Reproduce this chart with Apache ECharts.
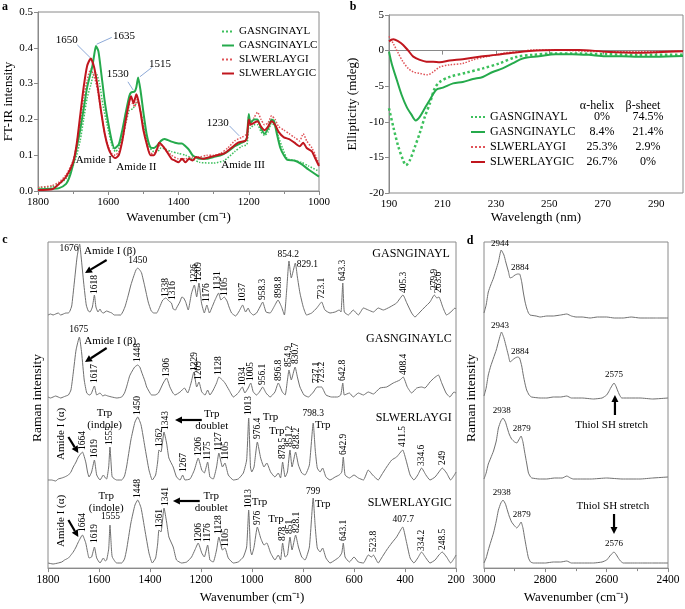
<!DOCTYPE html>
<html><head><meta charset="utf-8">
<script src="https://cdn.jsdelivr.net/npm/echarts@6/dist/echarts.min.js"></script>
<style>html,body{margin:0;padding:0;background:#fff}#c{width:685px;height:609px}</style>
</head><body><div id="c"></div>
<script>
// ---------------- DATA ----------------
const peptideNames = ['GASNGINAYL','GASNGINAYLC','SLWERLAYGI','SLWERLAYGIC'];
const alphaHelix = ['0%','8.4%','25.3%','26.7%'];
const betaSheet = ['74.5%','21.4%','2.9%','0%'];

// Panel a: FT-IR (wavenumber, intensity)
const ftirGASNGINAYL = [[1800,0.01],[1760,0.012],[1740,0.02],[1720,0.035],[1700,0.07],[1690,0.1],[1680,0.14],[1670,0.2],[1660,0.26],[1650,0.295],[1640,0.33],[1635,0.33],[1625,0.3],[1615,0.24],[1600,0.17],[1590,0.13],[1580,0.11],[1570,0.12],[1560,0.15],[1550,0.19],[1540,0.225],[1530,0.23],[1520,0.245],[1515,0.25],[1505,0.21],[1495,0.16],[1485,0.125],[1470,0.11],[1460,0.11],[1450,0.12],[1440,0.118],[1420,0.11],[1400,0.105],[1380,0.1],[1360,0.09],[1340,0.08],[1300,0.078],[1270,0.085],[1240,0.11],[1220,0.125],[1205,0.13],[1200,0.2],[1195,0.175],[1185,0.185],[1175,0.185],[1165,0.165],[1155,0.155],[1145,0.165],[1135,0.19],[1125,0.18],[1115,0.15],[1100,0.11],[1090,0.09],[1070,0.085],[1050,0.08],[1030,0.07],[1000,0.055]];
const ftirGASNGINAYLC = [[1800,0.005],[1760,0.006],[1740,0.008],[1720,0.02],[1710,0.04],[1700,0.075],[1690,0.12],[1680,0.17],[1670,0.23],[1660,0.29],[1650,0.33],[1645,0.35],[1640,0.38],[1635,0.405],[1628,0.39],[1620,0.33],[1610,0.25],[1600,0.19],[1590,0.14],[1582,0.119],[1570,0.13],[1560,0.17],[1550,0.22],[1540,0.265],[1535,0.275],[1525,0.278],[1520,0.29],[1515,0.317],[1508,0.28],[1500,0.22],[1490,0.155],[1480,0.122],[1470,0.12],[1460,0.128],[1450,0.14],[1440,0.145],[1430,0.142],[1420,0.138],[1410,0.135],[1400,0.133],[1390,0.133],[1380,0.125],[1370,0.115],[1360,0.1],[1340,0.09],[1320,0.09],[1300,0.095],[1280,0.1],[1260,0.11],[1240,0.125],[1220,0.135],[1210,0.14],[1205,0.15],[1200,0.215],[1195,0.19],[1185,0.2],[1175,0.2],[1165,0.175],[1155,0.16],[1145,0.175],[1135,0.2],[1128,0.195],[1120,0.16],[1110,0.12],[1100,0.1],[1090,0.087],[1070,0.085],[1050,0.075],[1030,0.06],[1000,0.04]];
const ftirSLWERLAYGI = [[1800,0.01],[1760,0.015],[1740,0.025],[1720,0.045],[1700,0.085],[1690,0.13],[1680,0.19],[1670,0.26],[1660,0.31],[1650,0.34],[1640,0.32],[1630,0.28],[1620,0.22],[1610,0.16],[1600,0.125],[1590,0.105],[1580,0.1],[1570,0.11],[1560,0.14],[1550,0.19],[1540,0.24],[1530,0.245],[1525,0.235],[1518,0.255],[1510,0.23],[1500,0.18],[1490,0.13],[1480,0.105],[1470,0.105],[1460,0.12],[1450,0.13],[1440,0.12],[1420,0.1],[1400,0.09],[1380,0.09],[1360,0.095],[1340,0.095],[1320,0.1],[1300,0.1],[1280,0.105],[1260,0.12],[1240,0.14],[1220,0.15],[1205,0.16],[1200,0.21],[1195,0.19],[1185,0.205],[1175,0.22],[1165,0.2],[1155,0.185],[1145,0.19],[1135,0.21],[1125,0.2],[1115,0.18],[1100,0.17],[1085,0.16],[1070,0.15],[1055,0.14],[1045,0.16],[1035,0.14],[1020,0.12],[1010,0.1],[1000,0.075]];
const ftirSLWERLAYGIC = [[1800,0.003],[1760,0.005],[1740,0.02],[1720,0.04],[1700,0.08],[1690,0.13],[1680,0.21],[1670,0.29],[1660,0.35],[1650,0.37],[1640,0.345],[1630,0.29],[1620,0.22],[1610,0.16],[1600,0.12],[1590,0.1],[1580,0.092],[1570,0.1],[1560,0.14],[1550,0.2],[1540,0.25],[1535,0.265],[1528,0.245],[1520,0.27],[1515,0.255],[1508,0.22],[1500,0.17],[1490,0.13],[1480,0.1],[1470,0.1],[1460,0.12],[1455,0.135],[1440,0.12],[1420,0.09],[1410,0.085],[1400,0.08],[1390,0.09],[1380,0.08],[1370,0.09],[1360,0.085],[1350,0.095],[1330,0.09],[1310,0.095],[1290,0.1],[1270,0.105],[1250,0.12],[1230,0.135],[1210,0.14],[1205,0.15],[1200,0.2],[1195,0.185],[1185,0.19],[1175,0.195],[1165,0.18],[1155,0.17],[1145,0.18],[1135,0.195],[1125,0.185],[1115,0.165],[1100,0.15],[1085,0.145],[1070,0.135],[1055,0.125],[1045,0.135],[1035,0.12],[1020,0.11],[1010,0.09],[1000,0.07]];
const ftirPeakLabels = [['1650',1718,0.422],['1635',1555,0.433],['1530',1573,0.327],['1515',1453,0.355],['1230',1288,0.191]];
const ftirLeaders = [[1688,0.408,1652,0.373],[1590,0.429,1633,0.41],[1544,0.305,1529,0.282],[1476,0.345,1510,0.319],[1255,0.182,1227,0.154]];
const ftirBandLabels = [['Amide I',1641,0.086],['Amide II',1520,0.068],['Amide III',1216,0.073]];

// Panel b: CD (wavelength, ellipticity)
const cdGASNGINAYL = [[190,-8.1],[191.6,-10.7],[193.5,-13.5],[195.3,-15.4],[196.3,-16.1],[197.8,-15.4],[199.7,-13.5],[201.5,-11.6],[203.4,-9.3],[205.3,-7.4],[207.1,-5.3],[209,-4.4],[212.7,-3.7],[218.9,-3.1],[225.1,-2.5],[231.3,-1.8],[237.5,-0.9],[243.7,-0.6],[252.3,-0.4],[258.5,-0.4],[271,-0.5],[283.3,-0.6],[300,-0.6]];
const cdGASNGINAYLC = [[190,-0.15],[191,-1.8],[192.9,-4.1],[194.7,-6.2],[196.6,-7.9],[198.4,-9.0],[200,-9.8],[201.5,-9.3],[203.4,-8.1],[205.3,-6.9],[207.7,-5.5],[210.2,-5.2],[214,-4.6],[217.6,-4.4],[221.4,-4.0],[225.1,-3.7],[228.8,-3.0],[232.5,-2.5],[236.2,-1.8],[240,-1.1],[246.1,-0.8],[252.3,-0.5],[258.5,-0.5],[264.7,-0.6],[271,-0.8],[277.1,-0.8],[283.3,-0.85],[289.5,-0.85],[300,-0.75]];
const cdSLWERLAYGI = [[190,2.0],[191.6,1.0],[193.5,-0.4],[195.3,-1.6],[197.2,-2.5],[199.1,-3.0],[201.5,-3.2],[204.3,-3.4],[206.5,-3.0],[209,-2.3],[212.7,-2.0],[217.6,-1.8],[221.4,-1.3],[226.3,-0.85],[231.3,-0.5],[233.8,-0.3],[238.7,-0.15],[243.7,0.1],[252.3,0.1],[258.5,0],[271,-0.15],[283.3,-0.15],[300,0]];
const cdSLWERLAYGIC = [[190,1.3],[191.6,1.6],[193.5,1.3],[195.3,0.8],[197.2,0],[199.1,-0.85],[201.5,-1.3],[204,-1.55],[206.5,-1.55],[209,-1.65],[212.7,-1.4],[217.6,-1.2],[223.8,-0.85],[230,-0.6],[236.2,-0.3],[242.4,-0.05],[252.3,0.1],[261,0.1],[271,-0.15],[283.3,-0.3],[300,-0.1]];

// Panel c: Raman 1800-200 (wavenumber, relative intensity a.u.)
const ramanGASNGINAYL = [[1800,0],[1790,1],[1780,0],[1770,1],[1760,2],[1750,0],[1740,1],[1730,2],[1720,2],[1714,4],[1707,9],[1697,32],[1686,58],[1676,71],[1670,58],[1660,32],[1650,10],[1642,4],[1635,3],[1626,8],[1618,20],[1612,8],[1604,3],[1596,6],[1590,3],[1583,2],[1570,4],[1560,3],[1550,2],[1540,0],[1530,0],[1515,0],[1505,4],[1497,9],[1485,20],[1475,30],[1465,38],[1455,45],[1448,47],[1440,45],[1433,42],[1420,28],[1407,13],[1395,4],[1385,2],[1374,2],[1362,8],[1350,15],[1338,17],[1326,14],[1316,12],[1309,6],[1300,5],[1296,7],[1283,13],[1275,18],[1268,17],[1260,13],[1250,5],[1242,15],[1237,22],[1226,30],[1217,18],[1208,32],[1198,12],[1187,2],[1177,10],[1167,2],[1158,7],[1145,15],[1131,22],[1122,15],[1109,18],[1098,14],[1090,8],[1080,2],[1064,-1],[1050,4],[1037,10],[1025,3],[1015,7],[1008,3],[995,0],[982,2],[969,8],[958,13],[945,3],[929,2],[914,8],[898,15],[884,8],[873,0],[864,25],[855,54],[846,37],[830,52],[822,38],[812,22],[799,8],[786,0],[766,2],[746,7],[727,13],[714,5],[694,2],[674,3],[658,5],[651,3],[644,32],[638,3],[622,0],[603,5],[583,0],[563,7],[544,5],[524,3],[505,7],[485,5],[459,8],[433,12],[408,20],[393,12],[374,2],[361,-2],[341,3],[322,8],[302,13],[285,20],[275,17],[267,18],[252,8],[237,0],[220,3],[204,7],[200,6]];
const ramanGASNGINAYLC = [[1800,1],[1790,0],[1780,1],[1770,2],[1760,1],[1750,0],[1740,1],[1730,2],[1720,3],[1710,8],[1701,25],[1690,48],[1677,61],[1668,45],[1658,18],[1648,5],[1638,3],[1631,4],[1618,12],[1609,3],[1596,5],[1585,2],[1577,3],[1565,2],[1550,1],[1530,0],[1511,1],[1500,5],[1492,11],[1480,22],[1472,26],[1460,31],[1448,33],[1440,31],[1433,26],[1420,17],[1413,11],[1400,5],[1394,3],[1380,3],[1367,5],[1348,15],[1335,20],[1322,11],[1310,5],[1302,3],[1282,6],[1265,10],[1252,5],[1239,15],[1228,26],[1217,11],[1208,16],[1197,6],[1184,3],[1174,8],[1165,3],[1152,8],[1139,15],[1130,21],[1116,18],[1106,15],[1090,8],[1073,1],[1054,5],[1038,11],[1028,5],[1015,10],[1005,15],[995,6],[982,3],[971,6],[958,11],[945,5],[929,1],[910,6],[897,15],[881,6],[870,3],[861,18],[855,28],[846,18],[831,31],[822,21],[812,11],[796,3],[779,1],[759,6],[745,11],[737,11],[727,11],[710,3],[688,1],[665,1],[652,3],[644,15],[638,3],[618,5],[603,1],[583,5],[563,3],[544,6],[524,4],[498,10],[472,11],[446,15],[420,18],[407,21],[391,11],[374,5],[354,10],[335,11],[322,10],[302,16],[286,20],[269,23],[256,15],[239,5],[224,1],[208,6],[200,5]];
const ramanSLWERLAYGI = [[1800,2],[1786,2],[1770,1],[1760,3],[1746,4],[1735,5],[1720,7],[1710,10],[1701,15],[1690,20],[1681,25],[1665,30],[1652,20],[1645,10],[1639,5],[1629,10],[1618,22],[1609,7],[1596,2],[1583,7],[1575,4],[1570,3],[1562,15],[1557,35],[1551,12],[1548,5],[1531,2],[1511,2],[1500,6],[1492,15],[1475,42],[1459,60],[1448,65],[1435,57],[1420,35],[1404,12],[1391,2],[1378,7],[1370,20],[1365,32],[1357,30],[1345,50],[1335,39],[1326,24],[1309,15],[1296,5],[1282,2],[1272,7],[1263,2],[1243,3],[1226,12],[1211,24],[1197,12],[1187,9],[1174,20],[1165,5],[1152,3],[1139,15],[1130,29],[1116,15],[1106,19],[1093,7],[1073,2],[1054,3],[1034,9],[1021,22],[1013,64],[1006,15],[1001,10],[992,15],[979,40],[966,24],[953,15],[942,19],[927,10],[910,5],[897,9],[888,4],[880,20],[870,5],[861,10],[851,32],[843,15],[829,30],[818,17],[805,9],[792,7],[775,17],[760,59],[752,32],[744,14],[733,10],[723,14],[710,5],[694,2],[674,5],[658,7],[648,10],[642,25],[635,7],[618,4],[600,7],[583,4],[563,2],[544,12],[527,7],[505,2],[492,7],[472,15],[452,22],[433,25],[409,32],[396,22],[380,7],[365,2],[350,7],[335,14],[318,7],[302,2],[282,5],[267,10],[254,14],[237,9],[221,2],[204,8],[200,10]];
const ramanSLWERLAYGIC = [[1800,1],[1780,0],[1760,1],[1746,2],[1735,4],[1720,6],[1710,9],[1701,12],[1690,17],[1681,22],[1665,29],[1652,21],[1645,12],[1639,6],[1629,7],[1618,17],[1609,6],[1596,1],[1583,6],[1575,3],[1570,4],[1562,15],[1557,39],[1551,14],[1548,7],[1531,1],[1511,1],[1500,5],[1492,14],[1475,41],[1459,59],[1448,64],[1435,56],[1420,34],[1404,11],[1391,1],[1378,6],[1370,20],[1365,34],[1357,32],[1345,56],[1335,42],[1326,27],[1309,17],[1296,4],[1276,1],[1256,2],[1237,7],[1224,14],[1211,21],[1197,11],[1187,7],[1174,19],[1165,4],[1152,2],[1139,14],[1130,27],[1116,14],[1106,16],[1093,6],[1073,1],[1054,2],[1034,7],[1021,17],[1013,54],[1006,14],[1001,9],[992,17],[979,37],[966,26],[953,19],[942,21],[927,11],[910,4],[897,9],[888,4],[880,21],[870,7],[861,9],[851,27],[843,14],[829,29],[818,17],[805,7],[792,4],[775,17],[760,66],[752,37],[744,16],[733,12],[723,16],[710,6],[694,1],[674,4],[658,7],[648,11],[642,21],[635,7],[618,2],[600,7],[583,2],[563,1],[544,9],[531,7],[524,9],[505,1],[492,6],[472,14],[452,21],[433,27],[409,37],[396,24],[380,6],[365,1],[350,6],[335,12],[318,6],[302,1],[282,4],[267,9],[254,12],[237,7],[221,1],[204,7],[200,9]];

// Panel d: Raman 3000-2400
const ramanHighGASNGINAYL = [[3000,4],[2993,12],[2986,25],[2978,32],[2969,39],[2960,48],[2953,55],[2944,67],[2935,62],[2929,55],[2920,45],[2915,39],[2907,40],[2899,42],[2890,43],[2884,43],[2877,35],[2872,25],[2866,15],[2861,9],[2855,4],[2850,2],[2830,1],[2817,0],[2795,1],[2774,1],[2750,2],[2730,3],[2715,1],[2700,0],[2680,0],[2654,-1],[2630,0],[2600,0],[2575,-1],[2546,-1],[2520,0],[2491,-1],[2460,-1],[2437,-1],[2400,-1]];
const ramanHighGASNGINAYLC = [[3000,2],[2993,10],[2986,23],[2978,32],[2969,40],[2960,48],[2953,56],[2943,66],[2935,60],[2929,53],[2920,42],[2915,36],[2907,38],[2899,40],[2890,41],[2884,40],[2877,32],[2872,23],[2866,14],[2861,8],[2853,3],[2845,1],[2817,0],[2795,0],[2774,1],[2750,1],[2730,2],[2715,0],[2680,0],[2643,-1],[2615,0],[2600,3],[2592,7],[2587,10],[2576,15],[2570,12],[2565,8],[2558,3],[2551,0],[2520,0],[2491,0],[2450,-1],[2400,0]];
const ramanHighSLWERLAYGI = [[3000,0],[2993,6],[2986,15],[2978,21],[2969,28],[2960,38],[2953,51],[2945,58],[2938,61],[2930,57],[2926,53],[2918,45],[2910,40],[2900,37],[2893,36],[2885,40],[2879,43],[2873,37],[2868,28],[2861,16],[2855,6],[2848,2],[2844,1],[2820,0],[2796,0],[2770,1],[2745,1],[2730,3],[2718,1],[2709,0],[2680,0],[2650,0],[2600,1],[2550,0],[2491,0],[2450,1],[2400,2]];
const ramanHighSLWERLAYGIC = [[3000,0],[2993,5],[2986,13],[2978,21],[2969,30],[2960,42],[2953,53],[2945,60],[2938,63],[2930,59],[2926,55],[2918,47],[2910,41],[2900,37],[2893,35],[2885,38],[2879,41],[2873,35],[2868,26],[2861,14],[2855,5],[2848,1],[2839,0],[2800,0],[2774,1],[2750,1],[2730,2],[2715,0],[2680,0],[2643,0],[2615,1],[2600,3],[2592,6],[2587,8],[2576,11],[2570,9],[2562,5],[2555,2],[2546,0],[2500,0],[2450,0],[2400,0]];

// Raman annotations: [text, wavenumber, intensity, anchor]
const ramanLabels1 = [['1676',1680,67,'r'],['Amide I (β)',1659,64,'l'],['1618',1618,21,'v'],['1450',1448,49,'b'],['1338',1339,18,'v'],['1316',1311,15,'v'],['1226',1227,32,'v'],['1209',1208,34,'v'],['1176',1177,13,'v'],['1131',1134,25,'v'],['1105',1109,19,'v'],['1037',1037,13,'v'],['958.3',958,15,'v'],['898.8',897,17,'v'],['854.2',858,55,'b'],['829.1',825,51,'l'],['723.1',727,16,'v'],['643.3',644,34,'v'],['405.3',407,22,'v'],['279.9',285,25,'v'],['263.6',267,22,'v'],['GASNGINAYL',224,61,'r']];
const ramanLabels2 = [['1675',1679,63,'b'],['Amide I (β)',1658,57,'l'],['1617',1618,15,'v'],['1448',1448,36,'v'],['1306',1335,21,'v'],['1229',1227,27,'v'],['1209',1208,18,'v'],['1128',1130,23,'v'],['1034',1038,12,'v'],['1005',1005,17,'v'],['956.1',958,13,'v'],['896.8',897,17,'v'],['854.9',858,31,'v'],['830.7',831,34,'v'],['737.1',749,15,'v'],['723.2',727,15,'v'],['642.8',644,17,'v'],['408.4',407,23,'v'],['GASNGINAYLC',217,59,'r']];
const ramanLabels3 = [['Amide I (α)',1750,22,'v'],['1664',1665,32,'v'],['1619',1618,24,'v'],['Trp\n(indole)',1578,63,'c'],['1555',1557,37,'v'],['1450',1448,67,'v'],['1362',1363,35,'v'],['1343',1339,52,'v'],['Trp\ndoublet',1158,62,'c'],['1267',1269,10,'v'],['1206',1211,26,'v'],['1175',1174,22,'v'],['1127',1130,31,'v'],['1105',1103,22,'v'],['1013',1012,67,'v'],['976.4',977,43,'v'],['Trp',958,65,'l'],['Trp',903,51,'c'],['878.5',880,23,'v'],['851.2',851,35,'v'],['828.2',825,33,'v'],['798.3',760,63,'b'],['Trp',753,57,'l'],['642.9',642,27,'v'],['411.5',409,35,'v'],['334.6',335,16,'v'],['249',252,17,'v'],['SLWERLAYGI',217,64,'r']];
const ramanLabels4 = [['Amide I (α)',1750,17,'v'],['1664',1665,32,'v'],['1619',1618,21,'v'],['Trp\n(indole)',1572,62,'c'],['1555',1555,42,'b'],['1448',1448,66,'v'],['1361',1363,36,'v'],['1341',1339,58,'v'],['Trp\ndoublet',1160,62,'c'],['1206',1208,22,'v'],['1176',1174,22,'v'],['1128',1130,30,'v'],['1105',1103,17,'v'],['1013',1012,56,'v'],['Trp',1001,62,'l'],['976',979,39,'v'],['Trp',906,45,'c'],['878',880,23,'v'],['851',851,30,'v'],['828.1',825,31,'v'],['799',760,67,'b'],['Trp',753,60,'l'],['643.1',642,23,'v'],['523.8',524,12,'v'],['407.7',407,39,'b'],['334.2',335,13,'v'],['248.5',252,14,'v'],['SLWERLAYGIC',217,61,'r']];
const ramanArrows1 = [[1570,55,1655,42]];
const ramanArrows2 = [[1570,50,1655,36]];
const ramanArrows3 = [[1720,45,1681,29],[1197,62,1302,62]];
const ramanArrows4 = [[1720,44,1681,27],[1205,63,1310,63]];
const ramanHighLabels1 = [['2944',2948,68,'b'],['2884',2883,44,'b']];
const ramanHighLabels2 = [['2943',2948,67,'b'],['2884',2883,41,'b'],['2575',2576,18,'b'],['Thiol SH stretch',2584,-27,'c']];
const ramanHighLabels3 = [['2938',2942,63,'b'],['2879',2877,45,'b']];
const ramanHighLabels4 = [['2938',2942,65,'b'],['2879',2877,43,'b'],['Thiol SH stretch',2580,57,'c'],['2576',2576,14,'b']];
const ramanHighArrows2 = [[2573,-17,2573,3]];
const ramanHighArrows4 = [[2576,49,2576,29]];

// ---------------- CHART ----------------
const FONT = '"Liberation Serif", "Times New Roman", serif';
const GREEN = '#25aa4c', GREEN_L = '#3cc05c', RED = '#c0161e', RED_L = '#e05459', GREY = '#707070', FRAME = '#8a8a8a';
const chart = echarts.init(document.getElementById('c'), null, {width: 685, height: 609});

const cBase = [315, 398, 482, 564];
const dBase = [317, 398, 479, 563];
const SUB_H = 84, SUB_MAX = 78;

const grids = [
  {left: 38, top: 12, width: 281, height: 179, show: true, borderColor: FRAME, borderWidth: 1},
  {left: 389, top: 15, width: 294, height: 178, show: true, borderColor: FRAME, borderWidth: 1},
  {left: 48, top: 242, width: 408, height: 332, show: true, borderColor: FRAME, borderWidth: 1}
];
cBase.forEach(b => grids.push({left: 48, top: b - SUB_MAX, width: 408, height: SUB_H}));
grids.push({left: 484, top: 242, width: 184, height: 332, show: true, borderColor: FRAME, borderWidth: 1});
dBase.forEach(b => grids.push({left: 484, top: b - SUB_MAX, width: 184, height: SUB_H}));

const axLine = {lineStyle: {color: FRAME, width: 1}};
const axTick = {show: true, length: 4, lineStyle: {color: FRAME}};
const plain = v => String(v);
const axLab = (fs) => ({color: '#000', fontFamily: FONT, fontSize: fs, margin: 6, formatter: plain});
const nameStyle = {color: '#000', fontFamily: FONT, fontSize: 13};
const WN = 'Wavenumber (cm\u207B\u00B9)';

const xAxes = [
  {type: 'value', gridIndex: 0, min: 1000, max: 1800, inverse: true, interval: 200, axisLine: axLine, axisTick: axTick,
   minorTick: {show: true, splitNumber: 2, length: 3, lineStyle: {color: FRAME}}, axisLabel: axLab(11), splitLine: {show: false},
   name: WN, nameLocation: 'middle', nameGap: 20, nameTextStyle: nameStyle},
  {type: 'value', gridIndex: 1, min: 190, max: 300, interval: 20, axisLine: axLine, axisTick: axTick,
   axisLabel: Object.assign(axLab(11), {showMaxLabel: false}), splitLine: {show: false},
   name: 'Wavelength (nm)', nameLocation: 'middle', nameGap: 18, nameTextStyle: nameStyle},
  {type: 'value', gridIndex: 2, min: 200, max: 1800, inverse: true, interval: 200, axisLine: axLine, axisTick: axTick,
   axisLabel: axLab(11.5), splitLine: {show: false},
   name: WN, nameLocation: 'middle', nameGap: 21, nameTextStyle: nameStyle}
];
const yAxes = [
  {type: 'value', gridIndex: 0, min: 0, max: 0.5, interval: 0.1, axisLine: {show: true, lineStyle: {color: FRAME}}, axisTick: axTick,
   axisLabel: Object.assign(axLab(11), {margin: 5, formatter: v => v.toFixed(1)}), splitLine: {show: false},
   name: 'FT-IR intensity', nameLocation: 'middle', nameGap: 17, nameTextStyle: nameStyle},
  {type: 'value', gridIndex: 1, min: -20, max: 5, interval: 5, axisLine: {show: true, lineStyle: {color: FRAME}}, axisTick: axTick,
   axisLabel: Object.assign(axLab(11), {margin: 5}), splitLine: {show: false},
   name: 'Ellipticity (mdeg)', nameLocation: 'middle', nameGap: 30, nameTextStyle: nameStyle},
  {type: 'value', gridIndex: 2, min: 0, max: 1, show: false}
];
for (let i = 0; i < 4; i++) {
  xAxes.push({type: 'value', gridIndex: 3 + i, min: 200, max: 1800, inverse: true, show: false});
  yAxes.push({type: 'value', gridIndex: 3 + i, min: SUB_MAX - SUB_H, max: SUB_MAX, show: false});
}
xAxes.push({type: 'value', gridIndex: 7, min: 2400, max: 3000, inverse: true, interval: 200, axisLine: axLine, axisTick: axTick,
  minorTick: {show: true, splitNumber: 2, length: 3, lineStyle: {color: FRAME}}, axisLabel: axLab(11.5), splitLine: {show: false},
  name: WN, nameLocation: 'middle', nameGap: 21, nameTextStyle: nameStyle});
yAxes.push({type: 'value', gridIndex: 7, min: 0, max: 1, show: false});
for (let i = 0; i < 4; i++) {
  xAxes.push({type: 'value', gridIndex: 8 + i, min: 2400, max: 3000, inverse: true, show: false});
  yAxes.push({type: 'value', gridIndex: 8 + i, min: SUB_MAX - SUB_H, max: SUB_MAX, show: false});
}

function line(name, data, ax, color, width, type, smooth) {
  return {type: 'line', name, data, xAxisIndex: ax, yAxisIndex: ax, symbol: 'none', showSymbol: false, smooth: smooth || 0,
    lineStyle: {color, width, type}, itemStyle: {color}, silent: true, z: type === 'solid' ? 3 : 2};
}
const cdNames = peptideNames.map(n => 'CD ' + n);
const series = [
  line(peptideNames[0], ftirGASNGINAYL, 0, GREEN_L, 1.5, 'dotted', 0.2),
  line(peptideNames[1], ftirGASNGINAYLC, 0, GREEN, 2, 'solid', 0.2),
  line(peptideNames[2], ftirSLWERLAYGI, 0, RED_L, 1.5, 'dotted', 0.2),
  line(peptideNames[3], ftirSLWERLAYGIC, 0, RED, 2, 'solid', 0.2),
  line(cdNames[0], cdGASNGINAYL, 1, GREEN_L, 2.5, 'dotted', 0.3),
  line(cdNames[1], cdGASNGINAYLC, 1, GREEN, 2, 'solid', 0.3),
  line(cdNames[2], cdSLWERLAYGI, 1, RED_L, 1.5, 'dotted', 0.3),
  line(cdNames[3], cdSLWERLAYGIC, 1, RED, 2, 'solid', 0.3)
];
[ramanGASNGINAYL, ramanGASNGINAYLC, ramanSLWERLAYGI, ramanSLWERLAYGIC].forEach((d, i) =>
  series.push(line('raman' + i, d, 3 + i, GREY, 1, 'solid', 0.15)));
[ramanHighGASNGINAYL, ramanHighGASNGINAYLC, ramanHighSLWERLAYGI, ramanHighSLWERLAYGIC].forEach((d, i) =>
  series.push(line('ramanHigh' + i, d, 8 + i, GREY, 1, 'solid', 0.15)));

const legendText = {color: '#000', fontFamily: FONT};
chart.setOption({
  animation: false,
  backgroundColor: '#fff',
  grid: grids, xAxis: xAxes, yAxis: yAxes, series,
  legend: [
    {data: peptideNames, orient: 'vertical', left: 221, top: 26, padding: 0, itemWidth: 12, itemHeight: 10, itemGap: 3, itemTextGap: 3,
     itemStyle: {opacity: 0}, textStyle: Object.assign({fontSize: 11}, legendText), selectedMode: false},
    {data: cdNames, orient: 'vertical', left: 470, top: 111, padding: 0, itemWidth: 14, itemHeight: 12, itemGap: 3, itemTextGap: 3,
     itemStyle: {opacity: 0}, selectedMode: false,
     formatter: name => { const i = cdNames.indexOf(name); return '{n|' + peptideNames[i] + '}{a|' + alphaHelix[i] + '}{b|' + betaSheet[i] + '}'; },
     textStyle: Object.assign({fontSize: 12, rich: {
       n: Object.assign({fontSize: 12, width: 88}, legendText),
       a: Object.assign({fontSize: 12, width: 48, align: 'center'}, legendText),
       b: Object.assign({fontSize: 12, width: 44, align: 'center'}, legendText)}}, legendText)}
  ]
});

// ---------------- ANNOTATIONS ----------------
const els = [];
const P = (g, x, y) => chart.convertToPixel({gridIndex: g}, [x, y]);
function text(p, str, anchor, size, color) {
  const s = {text: str, font: size + 'px ' + FONT, fill: color || '#000', lineHeight: size + 1};
  let rotation = 0;
  if (anchor === 'v') { rotation = Math.PI / 2; s.align = 'left'; s.verticalAlign = 'middle'; }
  else if (anchor === 'b') { s.align = 'center'; s.verticalAlign = 'bottom'; }
  else if (anchor === 'l') { s.align = 'left'; s.verticalAlign = 'middle'; }
  else if (anchor === 'r') { s.align = 'right'; s.verticalAlign = 'middle'; }
  else { s.align = 'center'; s.verticalAlign = 'middle'; }
  s.textAlign = s.align; s.textVerticalAlign = s.verticalAlign;
  els.push({type: 'text', x: p[0], y: p[1], rotation, style: s, z: 100, silent: true});
}
function arrow(p1, p2, w, head) {
  const dx = p2[0] - p1[0], dy = p2[1] - p1[1], L = Math.hypot(dx, dy), ux = dx / L, uy = dy / L;
  const bx = p2[0] - ux * head, by = p2[1] - uy * head, nx = -uy * head * 0.5, ny = ux * head * 0.5;
  els.push({type: 'line', shape: {x1: p1[0], y1: p1[1], x2: bx, y2: by}, style: {stroke: '#000', lineWidth: w}, z: 100, silent: true});
  els.push({type: 'polygon', shape: {points: [[p2[0], p2[1]], [bx + nx, by + ny], [bx - nx, by - ny]]}, style: {fill: '#000'}, z: 100, silent: true});
}
const sizeOf = t => /^[\d.]+$/.test(t) ? 9.5 : (peptideNames.indexOf(t) >= 0 ? 12 : 11);

// panel a
ftirLeaders.forEach(l => { const a = P(0, l[0], l[1]), b = P(0, l[2], l[3]);
  els.push({type: 'line', shape: {x1: a[0], y1: a[1], x2: b[0], y2: b[1]}, style: {stroke: '#8eaad8', lineWidth: 1}, z: 100, silent: true}); });
ftirPeakLabels.forEach(l => text(P(0, l[1], l[2]), l[0], 'c', 11));
ftirBandLabels.forEach(l => text(P(0, l[1], l[2]), l[0], 'c', 11));
// panel b header
text([597, 106], 'α-helix', 'c', 12);
text([643, 106], 'β-sheet', 'c', 12);
// panel c
[ramanLabels1, ramanLabels2, ramanLabels3, ramanLabels4].forEach((arr, i) =>
  arr.forEach(l => text(P(3 + i, l[1], l[2]), l[0], l[3], sizeOf(l[0]))));
[ramanArrows1, ramanArrows2, ramanArrows3, ramanArrows4].forEach((arr, i) =>
  arr.forEach(a => arrow(P(3 + i, a[0], a[1]), P(3 + i, a[2], a[3]), 2.2, 7)));
// panel d
[ramanHighLabels1, ramanHighLabels2, ramanHighLabels3, ramanHighLabels4].forEach((arr, i) =>
  arr.forEach(l => text(P(8 + i, l[1], l[2]), l[0], l[3], /^[\d.]+$/.test(l[0]) ? 9 : 11)));
ramanHighArrows2.forEach(a => arrow(P(9, a[0], a[1]), P(9, a[2], a[3]), 2.2, 7));
ramanHighArrows4.forEach(a => arrow(P(11, a[0], a[1]), P(11, a[2], a[3]), 2.2, 7));
// titles
els.push({type: 'text', x: 37, y: 398, rotation: Math.PI / 2, style: {text: 'Raman intensity', font: '13.5px ' + FONT, fill: '#000', align: 'center', verticalAlign: 'middle', textAlign: 'center', textVerticalAlign: 'middle'}, z: 100});
els.push({type: 'text', x: 471, y: 398, rotation: Math.PI / 2, style: {text: 'Raman intensity', font: '13.5px ' + FONT, fill: '#000', align: 'center', verticalAlign: 'middle', textAlign: 'center', textVerticalAlign: 'middle'}, z: 100});
[['a', 5, 7], ['b', 353, 7], ['c', 5, 240], ['d', 470, 241]].forEach(t =>
  els.push({type: 'text', x: t[1], y: t[2], style: {text: t[0], font: 'bold 12px ' + FONT, fill: '#000', align: 'center', verticalAlign: 'middle', textAlign: 'center', textVerticalAlign: 'middle'}, z: 100}));

chart.setOption({graphic: {elements: els}});
</script>
</body></html>
